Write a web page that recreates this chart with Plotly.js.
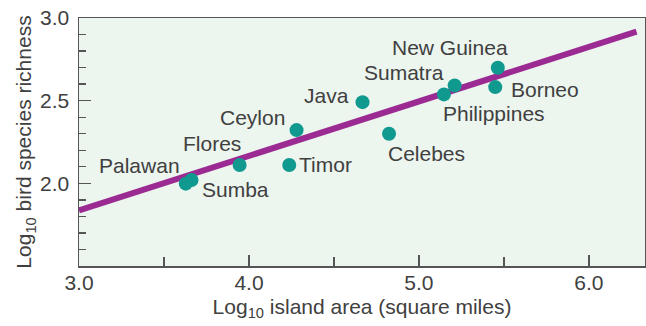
<!DOCTYPE html>
<html>
<head>
<meta charset="utf-8">
<script src="https://cdn.plot.ly/plotly-3.0.1.min.js"></script>
<style>
  html, body { margin: 0; padding: 0; background: #ffffff; }
  #chart { width: 646px; height: 326px; }
</style>
</head>
<body>
<div id="chart"></div>
<script>
// ---- data ----
const islands = ["Palawan", "Sumba", "Flores", "Timor", "Ceylon", "Java", "Celebes",
                 "Philippines", "Sumatra", "New Guinea", "Borneo"];
const logArea = [3.628, 3.662, 3.945, 4.237, 4.280, 4.668, 4.824, 5.147, 5.210, 5.464, 5.449];
const logRichness = [1.998, 2.020, 2.111, 2.111, 2.322, 2.491, 2.300, 2.538, 2.592, 2.699, 2.582];
// regression line end points
const fitX = [3.0, 6.28];
const fitY = [1.837, 2.917];
const xTickVals = [3, 4, 5, 6];
const xTickText = ["3.0", "4.0", "5.0", "6.0"];
const yTickVals = [2.0, 2.5, 3.0];
const yTickText = ["2.0", "2.5", "3.0"];

// ---- label placement (styling, pixels) ----
const labelPlacement = {
  "Palawan":     {xanchor: "right",  xshift: -4,  yshift: 18},
  "Sumba":       {xanchor: "left",   xshift: 8,   yshift: -9},
  "Flores":      {xanchor: "right",  xshift: 3,   yshift: 21},
  "Timor":       {xanchor: "left",   xshift: 8,   yshift: 0},
  "Ceylon":      {xanchor: "right",  xshift: -10, yshift: 13},
  "Java":        {xanchor: "right",  xshift: -12, yshift: 7},
  "Celebes":     {xanchor: "left",   xshift: -3,  yshift: -20},
  "Philippines": {xanchor: "left",   xshift: -3,  yshift: -19},
  "Sumatra":     {xanchor: "right",  xshift: -9,  yshift: 13},
  "New Guinea":  {xanchor: "right",  xshift: 12,  yshift: 20},
  "Borneo":      {xanchor: "left",   xshift: 14,  yshift: -2}
};

const FONT = "'Liberation Sans', Arial, Helvetica, sans-serif";
const TEXT = "#404040";
const AXIS = "#555555";
const FS = 21;

const traces = [
  {
    x: fitX, y: fitY, type: "scatter", mode: "lines",
    line: {color: "#9c2a93", width: 6},
    hoverinfo: "skip", showlegend: false
  },
  {
    x: logArea, y: logRichness, type: "scatter", mode: "markers",
    marker: {color: "#10998f", size: 14},
    text: islands, hoverinfo: "text", showlegend: false
  }
];

const annotations = islands.map((name, i) => {
  const p = labelPlacement[name];
  return {
    x: logArea[i], y: logRichness[i], xref: "x", yref: "y",
    text: name, showarrow: false,
    xanchor: p.xanchor, yanchor: "middle",
    xshift: p.xshift, yshift: p.yshift,
    font: {family: FONT, size: FS, color: TEXT}
  };
});

const layout = {
  width: 646, height: 326,
  margin: {l: 79, r: 1, t: 18, b: 60},
  paper_bgcolor: "#ffffff",
  plot_bgcolor: "#ecf5ee",
  font: {family: FONT, size: FS, color: TEXT},
  showlegend: false,
  xaxis: {
    range: [3.0, 6.33],
    showgrid: false, zeroline: false,
    showline: true, linecolor: AXIS, linewidth: 1.5, mirror: true,
    ticks: "inside", ticklen: 11, tickwidth: 1.3, tickcolor: AXIS,
    tickvals: xTickVals, ticktext: xTickText,
    minor: {dtick: 0.5, tick0: 3, ticks: "inside", ticklen: 9, tickwidth: 1.3, tickcolor: AXIS, showgrid: false},
    tickfont: {family: FONT, size: FS, color: TEXT},
    ticklabelstandoff: -3,
    title: {text: "Log<sub>10</sub> island area (square miles)", font: {family: FONT, size: FS, color: TEXT}, standoff: 6}
  },
  yaxis: {
    range: [1.5, 3.0],
    showgrid: false, zeroline: false,
    showline: true, linecolor: AXIS, linewidth: 1.5, mirror: true,
    ticks: "inside", ticklen: 12, tickwidth: 1.3, tickcolor: AXIS,
    tickvals: yTickVals, ticktext: yTickText,
    minor: {dtick: 0.1, tick0: 1.5, ticks: "inside", ticklen: 7, tickwidth: 1.3, tickcolor: AXIS, showgrid: false},
    tickfont: {family: FONT, size: FS, color: TEXT},
    ticklabelstandoff: 4,
    title: {text: "Log<sub>10</sub> bird species richness", font: {family: FONT, size: FS, color: TEXT}, standoff: 2}
  },
  annotations: annotations
};

Plotly.newPlot("chart", traces, layout, {displayModeBar: false, staticPlot: true});
</script>
</body>
</html>
